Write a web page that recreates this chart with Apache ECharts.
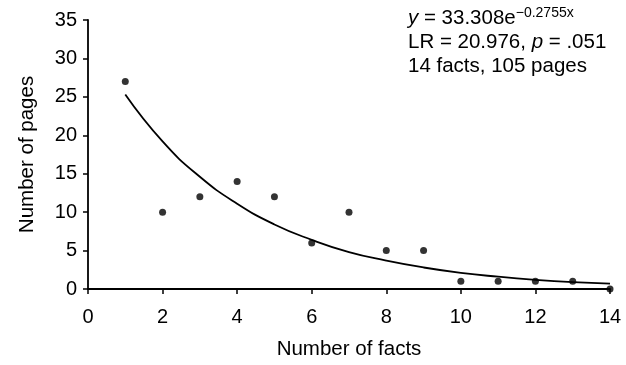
<!DOCTYPE html>
<html>
<head>
<meta charset="utf-8">
<script src="https://cdn.jsdelivr.net/npm/echarts@6/dist/echarts.min.js"></script>
<style>
  html, body { margin: 0; padding: 0; background: #fff; }
  #chart { width: 626px; height: 365px; }
</style>
</head>
<body>
<div id="chart"></div>
<script>
const facts = [1, 2, 3, 4, 5, 6, 7, 8, 9, 10, 11, 12, 13, 14];
const pages = [27, 10, 12, 14, 12, 6, 10, 5, 5, 1, 1, 1, 1, 0];
// fitted curve at each x
const fitted = [25.3, 19.2, 14.6, 11.1, 8.4, 6.4, 4.8, 3.7, 2.8, 2.1, 1.6, 1.2, 0.9, 0.7];
const xTicks = [0, 2, 4, 6, 8, 10, 12, 14];
const yTicks = [0, 5, 10, 15, 20, 25, 30, 35];

const font = 'Liberation Sans, Arial, Helvetica, sans-serif';
const myChart = echarts.init(document.getElementById('chart'));

const axisCommon = {
  axisLine: { show: true, lineStyle: { color: '#000', width: 1.8 } },
  axisTick: { show: true, inside: false, length: 5, lineStyle: { color: '#000', width: 1.5 } },
  splitLine: { show: false },
  axisLabel: { color: '#000', fontSize: 20, fontFamily: font },
  nameTextStyle: { color: '#000', fontSize: 20.5, fontFamily: font },
};

const option = {
  animation: false,
  backgroundColor: '#fff',
  grid: { left: 88, top: 20, right: 16, bottom: 73 },
  xAxis: Object.assign({}, axisCommon, {
    type: 'value',
    min: xTicks[0],
    max: xTicks[xTicks.length - 1],
    interval: 2,
    name: 'Number of facts',
    nameLocation: 'middle',
    nameGap: 50,
    axisLabel: Object.assign({}, axisCommon.axisLabel, { margin: 18 }),
  }),
  yAxis: Object.assign({}, axisCommon, {
    type: 'value',
    min: yTicks[0],
    max: yTicks[yTicks.length - 1],
    interval: 5,
    name: 'Number of pages',
    nameLocation: 'middle',
    nameGap: 50,
    axisLabel: Object.assign({}, axisCommon.axisLabel, { margin: 11 }),
  }),
  graphic: [{
    type: 'text',
    left: 408,
    top: 6,
    style: {
      text: '{i|y} = 33.308e{sup|−0.2755x}\nLR = 20.976, {i|p} = .051\n14 facts, 105 pages',
      font: '20.5px ' + font,
      fill: '#000',
      lineHeight: 24,
      rich: {
        i: { fontStyle: 'italic', fontSize: 20.5, fontFamily: font },
        sup: { fontSize: 14, fontFamily: font, padding: [0, 0, 10, 0], verticalAlign: 'bottom' },
      },
    },
  }],
  series: [
    {
      type: 'line',
      data: facts.map((x, i) => [x, fitted[i]]),
      smooth: true,
      showSymbol: false,
      symbol: 'none',
      lineStyle: { color: '#000', width: 1.8 },
      z: 2,
    },
    {
      type: 'scatter',
      data: facts.map((x, i) => [x, pages[i]]),
      symbolSize: 7,
      itemStyle: { color: '#000' },
      z: 3,
    },
  ],
};
myChart.setOption(option);
</script>
</body>
</html>
